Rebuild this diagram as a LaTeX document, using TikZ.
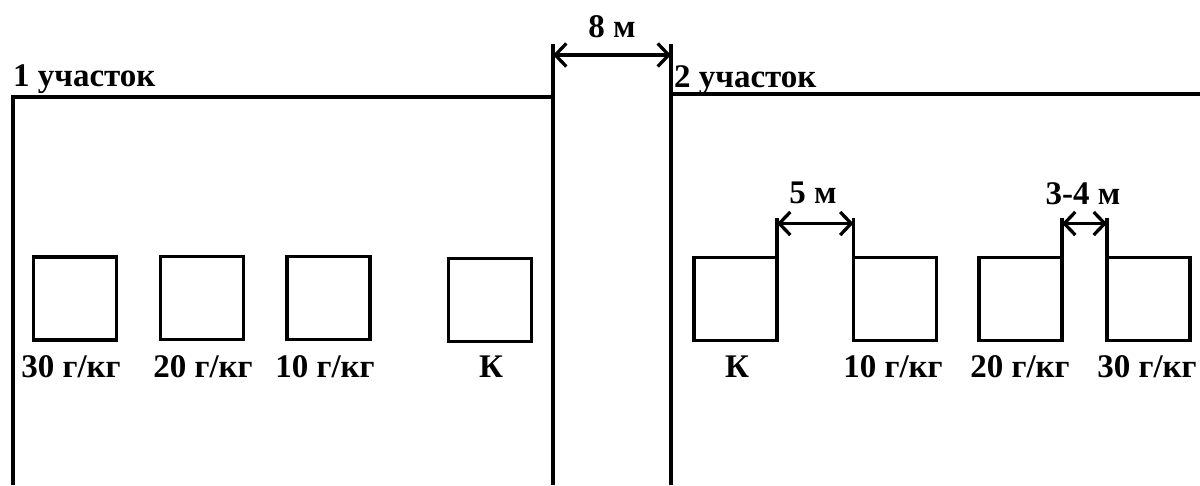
\documentclass[tikz,border=0pt]{standalone}
\usepackage{fontspec}
\setmainfont{Liberation Serif}
\usetikzlibrary{arrows.meta,calc}
\begin{document}
\begin{tikzpicture}[x=1pt,y=-1pt,
  border/.style={draw,line width=3.3pt},
  bed/.style={draw,line width=3.3pt,minimum width=83pt,minimum height=83pt,inner sep=0pt,outer sep=0pt},
  lbl/.style={font=\fontsize{33}{33}\selectfont\bfseries,inner sep=0pt},
  dimtxt/.style={font=\fontsize{33}{33}\selectfont\bfseries,inner sep=0pt,anchor=base},
  dimline/.style={line width=3.3pt,{Straight Barb[length=11pt,width=23pt]}-{Straight Barb[length=11pt,width=23pt]}}]
\useasboundingbox (0,0) rectangle (1200,485);

% field boundaries
\coordinate (p1bl) at (13,485);
\coordinate (p1tl) at (13,97);
\coordinate (p1tr) at (553,97);
\coordinate (gapLt) at (553,44);
\coordinate (gapLb) at (553,485);
\coordinate (gapRt) at (671,44);
\coordinate (gapRb) at (671,485);
\coordinate (p2tl) at (671,94);
\coordinate (p2tr) at (1200,94);
\draw[border] (p1bl) -- (p1tl) -- (p1tr);
\draw[border] (gapLt) -- (gapLb);
\draw[border] (gapRt) -- (gapRb);
\draw[border] (p2tl) -- (p2tr);

% field titles
\node[lbl,anchor=base west] (t1) at (13,86) {1 участок};
\node[lbl,anchor=base west] (t2) at (674,87) {2 участок};

% gap between the fields
\coordinate (dL) at (553,55);
\coordinate (dR) at (671,55);
\draw[dimline] (dL) -- (dR);
\node[dimtxt] (d8) at (612,37) {8 м};

% field 1 plots
\node[bed] (a30) at (75,298.5) {};
\node[bed] (a20) at (202,298) {};
\node[bed] (a10) at (328.5,298) {};
\node[bed] (aK) at (490,300) {};
\node[lbl,anchor=base] (la30) at (71,377) {30 г/кг};
\node[lbl,anchor=base] (la20) at (203,377) {20 г/кг};
\node[lbl,anchor=base] (la10) at (325,377) {10 г/кг};
\node[lbl,anchor=base] (laK) at (491,377) {К};

% field 2 plots
\node[bed] (bK) at (735.5,299) {};
\node[bed] (b10) at (895,299) {};
\node[bed] (b20) at (1020.5,299) {};
\node[bed] (b30) at (1148.5,299) {};
\node[lbl,anchor=base] (lbK) at (737,377) {К};
\node[lbl,anchor=base] (lb10) at (893,377) {10 г/кг};
\node[lbl,anchor=base] (lb20) at (1020,377) {20 г/кг};
\node[lbl,anchor=base] (lb30) at (1147,377) {30 г/кг};

% distances between plots
\coordinate (e1) at ($(bK.north east)+(0,-40)$);
\coordinate (e2) at ($(b10.north west)+(0,-40)$);
\coordinate (e3) at ($(b20.north east)+(0,-40)$);
\coordinate (e4) at ($(b30.north west)+(0,-40)$);
\draw[border] (bK.north east) -- (e1);
\draw[border] (b10.north west) -- (e2);
\draw[border] (b20.north east) -- (e3);
\draw[border] (b30.north west) -- (e4);
\draw[dimline] ($(e1)+(0,6)$) -- ($(e2)+(0,6)$);
\draw[dimline] ($(e3)+(0,6)$) -- ($(e4)+(0,6)$);
\node[dimtxt] (d5) at (813,203) {5 м};
\node[dimtxt] (d34) at (1083,204) {3-4 м};
\end{tikzpicture}
\end{document}
